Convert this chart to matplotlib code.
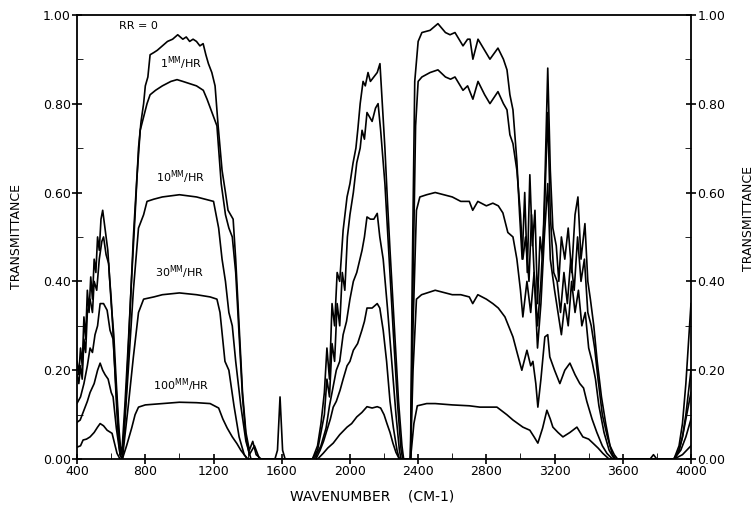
import numpy as np
import matplotlib
matplotlib.use("Agg")
from matplotlib import pyplot as plt
from matplotlib.ticker import MultipleLocator, FormatStrFormatter

# RR = 0
wn_rr0 = [400, 410, 420, 430, 440, 450, 460, 470, 480, 490, 500, 510, 520, 530, 540, 550, 560, 570, 580, 590,
          600, 610, 620, 630, 640, 652, 665, 680, 700, 720, 740, 760, 775, 790, 800, 815, 828, 850, 870, 900,
          930, 960, 990, 1020, 1040, 1060, 1080, 1100, 1120, 1139, 1155, 1170, 1190, 1209, 1227, 1250, 1270,
          1285, 1300, 1315, 1330, 1350, 1370, 1390, 1410, 1430, 1450, 1480, 1560, 1575, 1590, 1605, 1620,
          1780, 1810, 1830, 1850, 1865, 1880, 1895, 1910, 1925, 1940, 1960, 1983, 2000, 2018, 2035, 2047,
          2060, 2077, 2090, 2106, 2120, 2140, 2160, 2176, 2190, 2205, 2220, 2235, 2260, 2285, 2305, 2315,
          2355, 2365, 2380, 2400, 2422, 2470, 2516, 2560, 2587, 2616, 2663, 2690, 2704, 2721, 2751, 2790,
          2821, 2868, 2900, 2921, 2938, 2956, 2979, 2995, 3010, 3025, 3040, 3055, 3070, 3085, 3100, 3115,
          3130, 3145, 3160, 3175, 3190, 3210, 3225, 3240, 3260, 3280, 3300, 3320, 3337, 3355, 3378, 3395,
          3410, 3430, 3450, 3475, 3500, 3525, 3550, 3570, 3760, 3780, 3800, 3900, 3930, 3950, 3970, 3985, 4000]
t_rr0 = [0.22, 0.19, 0.25, 0.21, 0.32, 0.27, 0.38, 0.33, 0.41, 0.36, 0.45, 0.42, 0.50, 0.47, 0.54, 0.56, 0.53,
         0.50, 0.47, 0.41, 0.36, 0.29, 0.21, 0.13, 0.06, 0.01, 0.03, 0.12, 0.26, 0.41, 0.55, 0.70, 0.76, 0.80,
         0.84, 0.86, 0.91, 0.915, 0.92, 0.93, 0.94, 0.945, 0.955, 0.945, 0.95, 0.94, 0.945, 0.94, 0.93, 0.935,
         0.91, 0.89, 0.87, 0.84, 0.75, 0.65, 0.60, 0.56, 0.55, 0.54, 0.45, 0.30, 0.15, 0.06, 0.02, 0.04,
         0.01, 0.0, 0.0, 0.02, 0.14, 0.02, 0.0,
         0.0, 0.03, 0.08, 0.15, 0.25, 0.18, 0.35, 0.30, 0.42, 0.40, 0.515, 0.59, 0.62, 0.666, 0.70, 0.745,
         0.80, 0.85, 0.84, 0.87, 0.85, 0.86, 0.87, 0.89, 0.80, 0.70, 0.58, 0.47, 0.30, 0.13, 0.03, 0.0,
         0.0, 0.40, 0.85, 0.94, 0.96, 0.965, 0.98, 0.96, 0.955, 0.96, 0.93, 0.945, 0.945, 0.90, 0.945, 0.92,
         0.90, 0.925, 0.90, 0.876, 0.82, 0.786, 0.67, 0.55, 0.45, 0.60, 0.42, 0.64, 0.48, 0.56, 0.35, 0.50,
         0.45, 0.65, 0.88, 0.65, 0.52, 0.48, 0.40, 0.50, 0.45, 0.52, 0.42, 0.55, 0.59, 0.45, 0.53, 0.40,
         0.36, 0.30, 0.22, 0.14, 0.08, 0.03, 0.01, 0.0, 0.0, 0.01, 0.0, 0.0, 0.03, 0.08, 0.17, 0.26, 0.35]

# 1 mm/hr
wn_1 = [400, 410, 420, 430, 440, 450, 460, 476, 490, 500, 515, 530, 545, 555, 570, 585, 600, 615, 630, 645,
        658, 670, 690, 710, 730, 750, 770, 790, 810, 828, 860, 900, 950, 986, 1020, 1060, 1100, 1140, 1162,
        1191, 1220, 1245, 1270, 1290, 1310, 1330, 1350, 1370, 1390, 1410, 1440, 1470,
        1780, 1810, 1830, 1850, 1865, 1880, 1895, 1910, 1925, 1940, 1955, 1970, 1985, 2000, 2020, 2040,
        2060, 2071, 2085, 2100, 2115, 2130, 2150, 2165, 2180, 2205, 2230, 2255, 2280, 2300, 2310,
        2355, 2370, 2385, 2400, 2422, 2470, 2516, 2560, 2590, 2616, 2663, 2690, 2721, 2751, 2790, 2821,
        2868, 2900, 2921, 2938, 2956, 2979, 3000, 3014, 3030, 3050, 3065, 3080, 3100, 3120, 3140, 3160,
        3175, 3195, 3215, 3235, 3255, 3275, 3295, 3315, 3335, 3355, 3375, 3395, 3415, 3435, 3455, 3480,
        3510, 3540, 3560, 3900, 3930, 3950, 3970, 3985, 4000]
t_1 = [0.19, 0.17, 0.21, 0.18, 0.27, 0.24, 0.33, 0.36, 0.33, 0.40, 0.38, 0.45, 0.49, 0.50, 0.46, 0.44, 0.35,
       0.28, 0.17, 0.07, 0.01, 0.03, 0.16, 0.33, 0.50, 0.63, 0.74, 0.77, 0.80, 0.82, 0.83, 0.84, 0.85, 0.854,
       0.85, 0.845, 0.84, 0.83, 0.81, 0.78, 0.75, 0.62, 0.55, 0.52, 0.50, 0.42, 0.28, 0.14, 0.05, 0.01,
       0.03, 0.0,
       0.0, 0.02, 0.06, 0.10, 0.18, 0.14, 0.26, 0.22, 0.35, 0.30, 0.42, 0.38, 0.50, 0.55, 0.60, 0.667, 0.70,
       0.74, 0.72, 0.78, 0.77, 0.76, 0.79, 0.80, 0.74, 0.62, 0.45, 0.28, 0.12, 0.02, 0.0,
       0.0, 0.40, 0.75, 0.85, 0.86, 0.87, 0.876, 0.86, 0.855, 0.86, 0.83, 0.84, 0.81, 0.85, 0.82, 0.80,
       0.827, 0.80, 0.786, 0.73, 0.71, 0.65, 0.55, 0.45, 0.50, 0.40, 0.55, 0.42, 0.30, 0.40, 0.55, 0.78,
       0.55, 0.42, 0.40, 0.33, 0.42, 0.35, 0.45, 0.38, 0.50, 0.40, 0.45, 0.33, 0.30, 0.25, 0.18, 0.10,
       0.05, 0.01, 0.0, 0.0, 0.02, 0.05, 0.10, 0.15, 0.20]

# 10 mm/hr
wn_10 = [400, 420, 440, 460, 476, 490, 505, 520, 535, 555, 576, 593, 611, 630, 652, 665, 700, 730, 760, 790,
         810, 850, 900, 1000, 1100, 1150, 1200, 1230, 1250, 1270, 1290, 1310, 1330, 1360, 1390, 1420,
         1790, 1830, 1860, 1880, 1900, 1920, 1940, 1960, 1980, 2000, 2020, 2040, 2071, 2085, 2100, 2120,
         2140, 2160, 2175, 2195, 2220, 2245, 2270, 2290, 2300,
         2355, 2370, 2390, 2410, 2450, 2500, 2550, 2600, 2650, 2700, 2720, 2750, 2800, 2838, 2870, 2897,
         2926, 2956, 2979, 3000, 3014, 3038, 3060, 3080, 3100, 3120, 3140, 3160, 3175, 3200, 3220, 3240,
         3260, 3280, 3300, 3320, 3340, 3360, 3380, 3400, 3420, 3440, 3460, 3490, 3520, 3550,
         3900, 3930, 3950, 3970, 4000]
t_10 = [0.126, 0.14, 0.17, 0.21, 0.25, 0.24, 0.28, 0.30, 0.35, 0.35, 0.335, 0.29, 0.27, 0.15, 0.01, 0.0,
        0.20, 0.38, 0.52, 0.55, 0.58, 0.585, 0.59, 0.595, 0.59, 0.585, 0.58, 0.52, 0.45, 0.40, 0.33, 0.30,
        0.22, 0.12, 0.04, 0.0,
        0.0, 0.03, 0.07, 0.12, 0.16, 0.20, 0.22, 0.28, 0.31, 0.36, 0.40, 0.42, 0.47, 0.50, 0.545, 0.54,
        0.54, 0.553, 0.50, 0.45, 0.34, 0.22, 0.10, 0.02, 0.0,
        0.0, 0.30, 0.56, 0.59, 0.595, 0.60, 0.595, 0.59, 0.58, 0.58, 0.56, 0.58, 0.57, 0.576, 0.57, 0.554,
        0.51, 0.50, 0.45, 0.38, 0.32, 0.40, 0.33, 0.42, 0.25, 0.35, 0.50, 0.62, 0.45, 0.38, 0.33, 0.28,
        0.35, 0.30, 0.40, 0.33, 0.38, 0.30, 0.33, 0.25, 0.22, 0.18, 0.12, 0.06, 0.02, 0.0,
        0.0, 0.02, 0.05, 0.09, 0.15]

# 30 mm/hr
wn_30 = [400, 418, 440, 460, 476, 500, 520, 535, 550, 564, 582, 600, 611, 630, 652, 665, 700, 730, 760, 790,
         850, 900, 1000, 1100, 1180, 1220, 1238, 1267, 1290, 1320, 1350, 1380, 1400,
         1800, 1825, 1845, 1865, 1885, 1902, 1920, 1942, 1960, 1983, 2000, 2020, 2045, 2070, 2085, 2100,
         2130, 2160, 2175, 2195, 2215, 2235, 2255, 2276, 2290,
         2355, 2370, 2390, 2420, 2500, 2550, 2600, 2650, 2700, 2720, 2750, 2800, 2838, 2870, 2909, 2956,
         2980, 3008, 3038, 3060, 3073, 3090, 3102, 3120, 3143, 3160, 3172, 3200, 3231, 3260, 3290, 3320,
         3348, 3370, 3389, 3420, 3448, 3480, 3507, 3540, 3900, 3940, 3970, 4000]
t_30 = [0.083, 0.088, 0.11, 0.13, 0.15, 0.17, 0.20, 0.216, 0.20, 0.19, 0.18, 0.15, 0.14, 0.07, 0.01, 0.0,
        0.12, 0.23, 0.33, 0.36, 0.365, 0.37, 0.374, 0.37, 0.365, 0.36, 0.33, 0.22, 0.20, 0.12, 0.05, 0.01, 0.0,
        0.0, 0.02, 0.04, 0.065, 0.09, 0.117, 0.13, 0.155, 0.18, 0.21, 0.22, 0.245, 0.26, 0.29, 0.31, 0.34,
        0.34, 0.35, 0.34, 0.29, 0.22, 0.13, 0.07, 0.02, 0.0,
        0.0, 0.20, 0.36, 0.37, 0.38, 0.375, 0.37, 0.37, 0.365, 0.35, 0.37, 0.36, 0.35, 0.34, 0.32, 0.275,
        0.24, 0.20, 0.245, 0.21, 0.22, 0.17, 0.117, 0.18, 0.275, 0.28, 0.23, 0.20, 0.17, 0.20, 0.216, 0.19,
        0.17, 0.16, 0.13, 0.09, 0.06, 0.03, 0.013, 0.0, 0.0, 0.02, 0.05, 0.09]

# 100 mm/hr
wn_100 = [400, 420, 435, 455, 476, 500, 520, 535, 555, 576, 605, 634, 652, 665, 690, 720, 740, 760, 800, 900,
          1000, 1100, 1180, 1230, 1255, 1280, 1310, 1337, 1360, 1380, 1400,
          1810, 1843, 1870, 1902, 1940, 1983, 2010, 2040, 2070, 2100, 2130, 2160, 2180, 2200, 2217, 2235,
          2252, 2270, 2290,
          2355, 2375, 2395, 2450, 2500, 2600, 2700, 2762, 2862, 2920, 2956, 3014, 3055, 3080, 3102, 3130,
          3155, 3175, 3190, 3220, 3249, 3290, 3331, 3350, 3366, 3400, 3425, 3455, 3483, 3520,
          3900, 3950, 4000]
t_100 = [0.027, 0.03, 0.043, 0.045, 0.05, 0.06, 0.072, 0.08, 0.075, 0.065, 0.058, 0.013, 0.0, 0.0, 0.03,
         0.07, 0.10, 0.117, 0.122, 0.125, 0.128, 0.127, 0.125, 0.115, 0.09, 0.07, 0.05, 0.035, 0.02, 0.01, 0.0,
         0.0, 0.013, 0.025, 0.036, 0.055, 0.072, 0.08, 0.095, 0.105, 0.118, 0.115, 0.118, 0.115, 0.10, 0.08,
         0.06, 0.036, 0.015, 0.0,
         0.0, 0.08, 0.12, 0.125, 0.125, 0.122, 0.12, 0.117, 0.117, 0.10, 0.088, 0.072, 0.065, 0.05, 0.036,
         0.07, 0.11, 0.09, 0.072, 0.06, 0.05, 0.06, 0.072, 0.06, 0.05, 0.045, 0.036, 0.025, 0.013, 0.0,
         0.0, 0.01, 0.03]

curves = [(wn_rr0, t_rr0), (wn_1, t_1), (wn_10, t_10), (wn_30, t_30), (wn_100, t_100)]
labels = ["RR = 0", "1$^{\\rm MM}$/HR", "10$^{\\rm MM}$/HR", "30$^{\\rm MM}$/HR", "100$^{\\rm MM}$/HR"]
label_pos = [(757, 0.975), (1010, 0.89), (1010, 0.635), (1000, 0.42), (1010, 0.167)]

fig = plt.figure(figsize=(7.56, 5.09), dpi=100)
ax = fig.add_axes([0.102, 0.098, 0.812, 0.873])

for wn, t in curves:
    ax.plot(wn, t, color="black", lw=1.2)

for txt, (x, y) in zip(labels, label_pos):
    ax.text(x, y, txt, fontsize=8, ha="center", va="center")

ax.set_xlim(400, 4000)
ax.set_ylim(0, 1)
ax.xaxis.set_major_locator(MultipleLocator(400))
ax.xaxis.set_minor_locator(MultipleLocator(200))
ax.yaxis.set_major_locator(MultipleLocator(0.2))
ax.yaxis.set_minor_locator(MultipleLocator(0.1))
ax.yaxis.set_major_formatter(FormatStrFormatter("%.2f"))
ax.tick_params(which="major", direction="inout", length=7, width=1.2, labelsize=9,
               right=True, labelright=True)
ax.tick_params(which="minor", direction="in", length=4, right=True)
ax.tick_params(axis="x", which="major", pad=1)
ax.tick_params(axis="y", which="major", pad=1)
for s in ax.spines.values():
    s.set_linewidth(1.3)

ax.set_ylabel("TRANSMITTANCE", fontsize=9, labelpad=14)
fig.text(0.999, 0.57, "TRANSMITTANCE", rotation=90, fontsize=9, ha="right", va="center")
fig.text(372 / 756, 0.025, "WAVENUMBER    (CM-1)", fontsize=10, ha="center", va="center")

fig.savefig("out.png", dpi=100)
